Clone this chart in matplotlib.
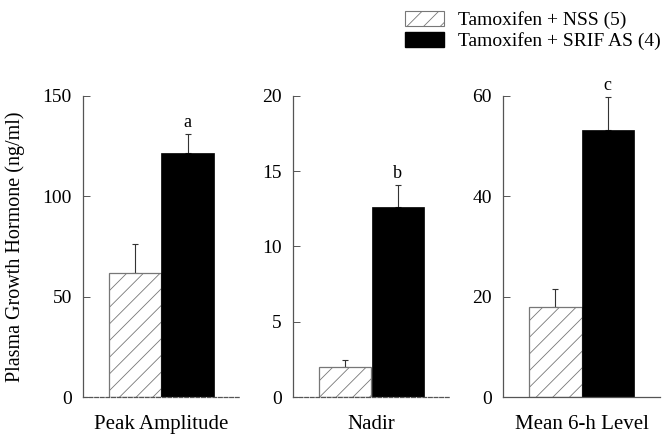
"""Plasma GH after tamoxifen: NSS vs SRIF antiserum, three panels."""

import matplotlib

matplotlib.use("Agg")
import matplotlib.pyplot as plt
from matplotlib.patches import Patch

categories = ["Peak Amplitude", "Nadir", "Mean 6-h Level"]
nss_mean = [62.0, 2.0, 18.0]
nss_sem = [14.0, 0.45, 3.5]
srif_mean = [121.5, 12.6, 53.3]
srif_sem = [9.5, 1.5, 6.5]
letters = ["a", "b", "c"]
y_max = [150, 20, 60]
y_step = [50, 5, 20]
series_labels = ["Tamoxifen + NSS (5)", "Tamoxifen + SRIF AS (4)"]

plt.rcParams["font.family"] = ["Liberation Serif", "DejaVu Serif"]
plt.rcParams["hatch.linewidth"] = 0.6
plt.rcParams["hatch.color"] = "#444444"

fig = plt.figure(figsize=(6.67, 4.4), dpi=100)
lefts = [83 / 667, 293 / 667, 503 / 667]
grey = "#555555"

for i, left in enumerate(lefts):
    ax = fig.add_axes([left, 43 / 440, 157 / 667, 301 / 440])
    ax.bar(0, nss_mean[i], width=1.0, color="white", edgecolor="#777777",
           linewidth=0.9, hatch="//", zorder=2)
    ax.bar(1, srif_mean[i], width=1.0, color="black", edgecolor="black",
           linewidth=0.5, zorder=2)
    for x, m, s in ((0, nss_mean[i], nss_sem[i]), (1, srif_mean[i], srif_sem[i])):
        ax.errorbar(x, m, yerr=[[0], [s]], fmt="none", ecolor="#333333",
                    elinewidth=0.8, capsize=2.5, capthick=0.8, zorder=1)
    ax.annotate(letters[i], (1, srif_mean[i] + srif_sem[i]), xytext=(0, 2),
                textcoords="offset points", ha="center", va="bottom", fontsize=13)

    ax.set_xlim(-1.0, 2.0)
    ax.set_ylim(0, y_max[i])
    ax.set_yticks(range(0, y_max[i] + 1, y_step[i]))
    ax.set_xticks([])
    ax.tick_params(axis="y", direction="in", length=5, width=0.7, color=grey,
                   labelsize=14, pad=8)
    for side in ("top", "right"):
        ax.spines[side].set_visible(False)
    ax.spines["left"].set_color(grey)
    ax.spines["left"].set_linewidth(0.9)
    ax.spines["bottom"].set_color(grey)
    ax.spines["bottom"].set_linewidth(0.9)
    if i < 2:
        ax.spines["bottom"].set_linestyle((0, (3, 1.5)))
    ax.set_xlabel(categories[i], fontsize=15, labelpad=13)
    ax.patch.set_alpha(0)

fig.text(15 / 667, 1 - 247 / 440, "Plasma Growth Hormone (ng/ml)", rotation=90,
         ha="center", va="center", fontsize=14.5)

handles = [
    Patch(facecolor="white", edgecolor="#777777", hatch="//", linewidth=0.8),
    Patch(facecolor="black", edgecolor="black"),
]
fig.legend(handles, series_labels, loc="upper left", bbox_to_anchor=(405 / 667, 1 - 11 / 440),
           frameon=False, fontsize=14, handlelength=2.0, handleheight=0.8,
           handletextpad=0.75, labelspacing=0.15, borderpad=0, borderaxespad=0)

fig.savefig("out.png", dpi=100)
